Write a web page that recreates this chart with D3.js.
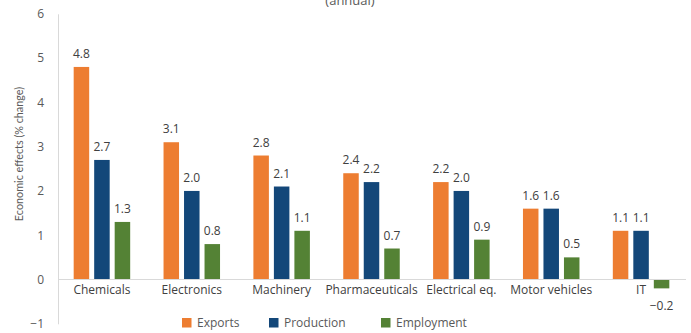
<!DOCTYPE html>
<html><head><meta charset="utf-8">
<script src="https://cdn.jsdelivr.net/npm/d3@7"></script>
<style>body{margin:0;background:#fff;} svg{display:block;font-family:"Open Sans",sans-serif;}</style>
</head><body>
<svg id="c" width="691" height="333"></svg>
<script>
const categories = ["Chemicals","Electronics","Machinery","Pharmaceuticals","Electrical eq.","Motor vehicles","IT"];
const seriesNames = ["Exports","Production","Employment"];
const exportsVals = [4.8,3.1,2.8,2.4,2.2,1.6,1.1];
const productionVals = [2.7,2.0,2.1,2.2,2.0,1.6,1.1];
const employmentVals = [1.3,0.8,1.1,0.7,0.9,0.5,-0.2];
const yTicks = [-1,0,1,2,3,4,5,6];
const colors = ["#ED7D31","#134779","#548235"];
const seriesVals = [exportsVals, productionVals, employmentVals];

const svg = d3.select("#c");
const x = d3.scaleBand().domain(categories).range([57,686]).paddingInner(0).paddingOuter(0);
const y = d3.scaleLinear().domain([-1,6]).range([323.8,13.8]);
const barW = 15.5, gap = 5;

svg.append("text").attr("x",350).attr("y",5).attr("text-anchor","middle")
  .attr("font-size",13).attr("fill","#595959").text("(annual)");

// y axis
const yAxis = d3.axisLeft(y).tickValues(yTicks).tickSize(0).tickPadding(14).tickFormat(d3.format("d"));
const ga = svg.append("g").attr("transform","translate(58,0)").call(yAxis);
ga.select(".domain").attr("stroke","#D9D9D9");
ga.selectAll("text").attr("font-size",12).attr("fill","#595959").attr("font-family","Open Sans");

svg.append("text").attr("transform","translate(23,154) rotate(-90)").attr("text-anchor","middle")
  .attr("font-family","Lato").attr("font-size",10.8).attr("fill","#595959").text("Economic effects (% change)");

// bars
seriesVals.forEach((vals,si)=>{
  const g = svg.append("g");
  categories.forEach((c,i)=>{
    const cx = x(c)+x.bandwidth()/2;
    const bx = cx - (3*barW+2*gap)/2 + si*(barW+gap);
    const v = vals[i];
    g.append("rect").attr("x",bx).attr("width",barW)
      .attr("y",Math.min(y(v),y(0))).attr("height",Math.abs(y(v)-y(0))).attr("fill",colors[si]);
    g.append("text").attr("x",bx+barW/2)
      .attr("y", v>=0 ? y(v)-9 : y(v)+22)
      .attr("text-anchor","middle").attr("font-size",12).attr("fill","#404040")
      .text(d3.format(".1f")(v));
  });
});

// zero line
svg.append("line").attr("x1",58).attr("x2",686).attr("y1",y(0)).attr("y2",y(0)).attr("stroke","#D9D9D9");

// category labels
const xAxis = d3.axisBottom(x).tickSize(0).tickPadding(6);
const gx = svg.append("g").attr("transform",`translate(0,${y(0)})`).call(xAxis);
gx.select(".domain").remove();
gx.selectAll("text").attr("font-size",12).attr("fill","#404040").attr("font-family","Open Sans");

// legend
const legX = [182,269,381];
seriesNames.forEach((n,i)=>{
  svg.append("rect").attr("x",legX[i]).attr("y",318).attr("width",9.5).attr("height",9.5).attr("fill",colors[i]);
  svg.append("text").attr("x",legX[i]+15).attr("y",327).attr("font-size",12).attr("fill","#595959").text(n);
});
</script>
</body></html>
